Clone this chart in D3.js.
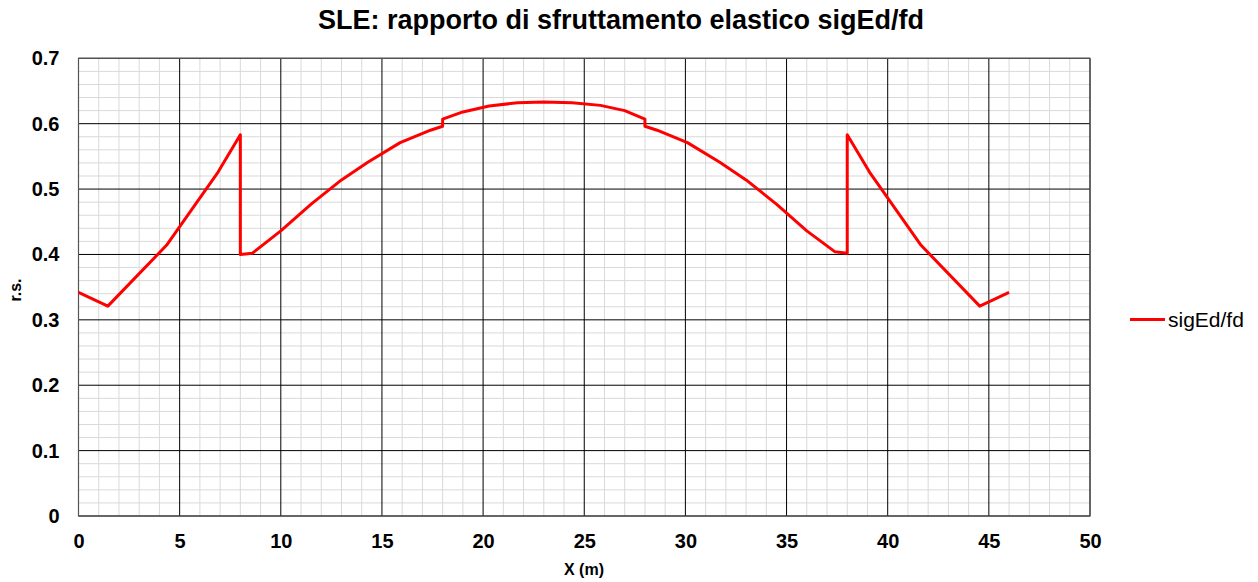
<!DOCTYPE html>
<html><head><meta charset="utf-8">
<script src="https://cdn.jsdelivr.net/npm/d3@7"></script>
<style>body{margin:0;background:#fff;}svg{font-family:"Liberation Sans",Arial,sans-serif;}</style>
</head><body>
<svg id="c" width="1258" height="582"></svg>
<script>
const seriesName = "sigEd/fd";
const xValues = [0, 1.45, 4.35, 6.9, 8.0, 8.0, 8.6, 10.0, 11.5, 13.0, 14.3, 15.9, 17.4, 18.0, 18.0, 19.0, 20.3, 21.7, 23.0, 24.4, 25.8, 27.0, 28.0, 28.0, 28.6, 30.1, 31.7, 33.0, 34.5, 36.0, 37.4, 38.0, 38.0, 39.1, 41.65, 44.55, 46.0];
const yValues = [0.342, 0.321, 0.414, 0.526, 0.583, 0.400, 0.402, 0.436, 0.477, 0.514, 0.541, 0.571, 0.590, 0.596, 0.607, 0.618, 0.627, 0.632, 0.633, 0.632, 0.628, 0.620, 0.607, 0.596, 0.590, 0.571, 0.541, 0.514, 0.477, 0.436, 0.404, 0.402, 0.583, 0.526, 0.414, 0.321, 0.342];
const xTicks = [0, 5, 10, 15, 20, 25, 30, 35, 40, 45, 50];
const yTicks = [0, 0.1, 0.2, 0.3, 0.4, 0.5, 0.6, 0.7];
const title = "SLE: rapporto di sfruttamento elastico sigEd/fd";
const xTitle = "X (m)";
const yTitle = "r.s.";

const svg = d3.select("#c");
const L = 78.5, R = 1090, T = 58.3, B = 516;
const x = d3.scaleLinear().domain([0, 50]).range([L, R]);
const y = d3.scaleLinear().domain([0, 0.7]).range([B, T]);

const g = svg.append("g");
const xMinor = d3.range(0, 51, 1).filter(v => v % 5 !== 0);
const yMinor = d3.range(0, 36).map(i => i * 0.02).filter((v, i) => i % 5 !== 0);
g.selectAll(".xm").data(xMinor).join("line")
  .attr("x1", d => x(d)).attr("x2", d => x(d)).attr("y1", T).attr("y2", B)
  .attr("stroke", "#d9d9d9").attr("stroke-width", 1);
g.selectAll(".ym").data(yMinor).join("line")
  .attr("x1", L).attr("x2", R).attr("y1", d => y(d)).attr("y2", d => y(d))
  .attr("stroke", "#d9d9d9").attr("stroke-width", 1);
g.selectAll(".xM").data(xTicks).join("line")
  .attr("x1", d => x(d)).attr("x2", d => x(d)).attr("y1", T).attr("y2", B)
  .attr("stroke", "#000").attr("stroke-width", 1);
g.selectAll(".yM").data(yTicks).join("line")
  .attr("x1", L).attr("x2", R).attr("y1", d => y(d)).attr("y2", d => y(d))
  .attr("stroke", "#000").attr("stroke-width", 1);
g.append("rect").attr("x", L).attr("y", T).attr("width", R - L).attr("height", B - T)
  .attr("fill", "none").attr("stroke", "#555").attr("stroke-width", 1.2);

const xAxis = svg.append("g").attr("transform", `translate(0,${B})`)
  .call(d3.axisBottom(x).tickValues(xTicks).tickSize(0).tickPadding(18).tickFormat(d3.format("d")));
xAxis.select(".domain").remove();
xAxis.selectAll("text").attr("font-size", 20).attr("font-weight", "bold").attr("fill", "#000")
  .attr("font-family", "Liberation Sans, Arial, sans-serif");
const yAxis = svg.append("g").attr("transform", `translate(${L},0)`)
  .call(d3.axisLeft(y).tickValues(yTicks).tickSize(0).tickPadding(19).tickFormat(d => d === 0 ? "0" : d3.format(".1f")(d)));
yAxis.select(".domain").remove();
yAxis.selectAll("text").attr("font-size", 20).attr("font-weight", "bold").attr("fill", "#000")
  .attr("font-family", "Liberation Sans, Arial, sans-serif");

const data = xValues.map((v, i) => [v, yValues[i]]);
svg.append("path").datum(data)
  .attr("d", d3.line().x(d => x(d[0])).y(d => y(d[1])))
  .attr("fill", "none").attr("stroke", "#ff0000").attr("stroke-width", 3).attr("stroke-linejoin", "round");

svg.append("text").attr("x", 621).attr("y", 29).attr("text-anchor", "middle")
  .attr("font-size", 27).attr("font-weight", "bold").text(title);
svg.append("text").attr("x", 584).attr("y", 575).attr("text-anchor", "middle")
  .attr("font-size", 16).attr("font-weight", "bold").text(xTitle);
svg.append("text").attr("transform", "translate(21,290) rotate(-90)").attr("text-anchor", "middle")
  .attr("font-size", 16).attr("font-weight", "bold").text(yTitle);

svg.append("line").attr("x1", 1130).attr("x2", 1165).attr("y1", 319.5).attr("y2", 319.5)
  .attr("stroke", "#ff0000").attr("stroke-width", 3);
svg.append("text").attr("x", 1168).attr("y", 327).attr("font-size", 21).text(seriesName);
</script>
</body></html>
